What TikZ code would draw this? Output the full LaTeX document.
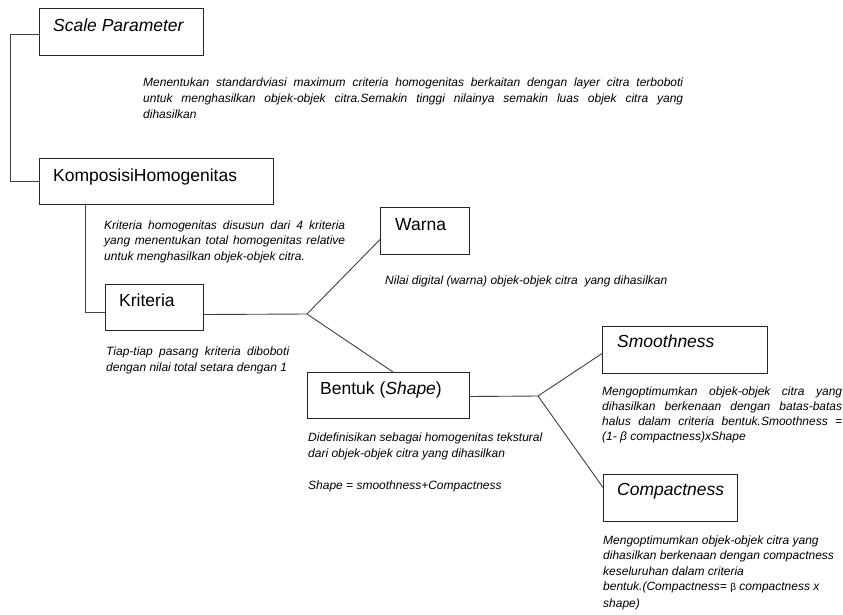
\documentclass[tikz,border=0pt]{standalone}
\usepackage{fontspec}
\setmainfont{Liberation Sans}
\usetikzlibrary{calc}
\newcommand{\jline}[2]{\hbox to #1{#2}}
\newcommand{\pline}[1]{\hbox{#1}}
\begin{document}
\begin{tikzpicture}[x=1pt,y=-1pt,
  box/.style={draw=black!85, line width=1pt, fill=white, inner sep=0pt, anchor=north west},
  ttl/.style={anchor=base west, inner sep=0pt, font=\fontsize{17.5}{20}\selectfont, text=black},
  desc/.style={anchor=base west, inner sep=0pt, font=\fontsize{12}{15.5}\selectfont\itshape, text=black},
  conn/.style={draw=black!75, line width=0.9pt}]
\useasboundingbox (0,0) rectangle (843,614);

% boxes
\node[box, minimum width=164pt, minimum height=47pt] (sp) at (39,8) {};
\node[box, minimum width=234pt, minimum height=46pt] (kh) at (39,158) {};
\node[box, minimum width=98pt,  minimum height=46pt] (kr) at (105,284) {};
\node[box, minimum width=89pt,  minimum height=47pt] (wa) at (380,207) {};
\node[box, minimum width=162pt, minimum height=46pt] (be) at (307,372) {};
\node[box, minimum width=165pt, minimum height=47pt] (sm) at (602,326) {};
\node[box, minimum width=134pt, minimum height=47pt] (co) at (603,474) {};

% titles
\node[ttl] (spt) at (53,31) {\itshape Scale Parameter};
\node[ttl] (kht) at (53,181) {KomposisiHomogenitas};
\node[ttl] (krt) at (119,306) {Kriteria};
\node[ttl] (wat) at (395,230) {Warna};
\node[ttl] (bet) at (320,394) {Bentuk (\textit{Shape})};
\node[ttl] (smt) at (617,347) {\itshape Smoothness};
\node[ttl] (cot) at (617,495) {\itshape Compactness};

% connectors
\coordinate (j1) at (307,314);
\coordinate (j2) at (538,396);
\draw[conn] ([yshift=-2.5pt]sp.west) -- ++(-29,0) |- (kh.west);
\draw[conn] ($(kh.south west)+(46,0)$) |- ([yshift=-5pt]kr.west);
\draw[conn] ([yshift=-7pt]kr.east) -- (j1);
\draw[conn] (j1) -- ([yshift=-8.5pt]wa.west);
\draw[conn] (j1) -- ($(be.north west)+(86,0)$);
\draw[conn] ([yshift=-1pt]be.east) -- (j2);
\draw[conn] (j2) -- ([yshift=-3.5pt]sm.west);
\draw[conn] (j2) -- ([yshift=10.5pt]co.west);

% descriptions
\node[desc] (spd) at (143,86) {\vtop{\baselineskip=16pt
  \jline{540pt}{Menentukan standardviasi maximum criteria homogenitas berkaitan dengan layer citra terboboti}
  \jline{540pt}{untuk menghasilkan objek-objek citra.Semakin tinggi nilainya semakin luas objek citra yang}
  \pline{dihasilkan}}};
\node[desc] (khd) at (104,229) {\vtop{\baselineskip=15.5pt
  \jline{241pt}{Kriteria homogenitas disusun dari 4 kriteria}
  \jline{241pt}{yang menentukan total homogenitas relative}
  \pline{untuk menghasilkan objek-objek citra.}}};
\node[desc] (wad) at (385,284) {Nilai digital (warna) objek-objek citra\ \ yang dihasilkan};
\node[desc] (krd) at (106,355) {\vtop{\baselineskip=16pt
  \jline{183pt}{Tiap-tiap pasang kriteria diboboti}
  \pline{dengan nilai total setara dengan 1}}};
\node[desc] (bed) at (308,441) {\vtop{\baselineskip=16pt
  \pline{Didefinisikan sebagai homogenitas tekstural}
  \pline{dari objek-objek\ citra yang dihasilkan}
  \pline{\strut}
  \pline{Shape = smoothness+Compactness}}};
\node[desc] (smd) at (602,395) {\vtop{\baselineskip=15pt
  \jline{240pt}{Mengoptimumkan objek-objek citra yang}
  \jline{240pt}{dihasilkan berkenaan dengan batas-batas}
  \jline{240pt}{halus dalam criteria bentuk.Smoothness =}
  \pline{(1- β compactness)xShape}}};
\node[desc] (cod) at (603,544) {\vtop{\baselineskip=15.5pt
  \pline{Mengoptimumkan objek-objek citra yang}
  \pline{dihasilkan berkenaan dengan compactness}
  \pline{keseluruhan dalam criteria}
  \pline{bentuk.(Compactness= {\upshape\fontsize{10}{12}\selectfont β} compactness x}
  \vskip 1.5pt
  \pline{shape)}}};
\end{tikzpicture}
\end{document}
